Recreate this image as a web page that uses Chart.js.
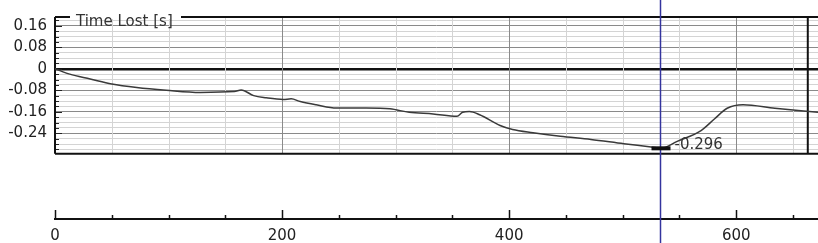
<!DOCTYPE html>
<html>
<head>
<meta charset="utf-8">
<script src="https://cdn.jsdelivr.net/npm/chart.js@4/dist/chart.umd.min.js"></script>
<style>
  body { margin: 0; background: #fff; }
  canvas { display: block; }
</style>
</head>
<body>
<canvas id="chart" width="818" height="243"></canvas>
<script>
// distance [m] and time lost [s]
const distance = [0, 13, 31, 50, 72, 98, 128, 158, 164, 175, 186, 201, 208, 216, 230, 248, 274, 295, 312, 333, 354, 359, 365, 374, 392, 403, 421, 445, 472, 501, 525, 534, 548, 569, 581, 592, 606, 634, 672];
const timeLost = [0, -0.020, -0.038, -0.057, -0.070, -0.080, -0.088, -0.085, -0.079, -0.100, -0.108, -0.114, -0.112, -0.122, -0.134, -0.146, -0.146, -0.149, -0.162, -0.168, -0.177, -0.162, -0.159, -0.171, -0.211, -0.226, -0.238, -0.251, -0.263, -0.279, -0.291, -0.296, -0.270, -0.230, -0.186, -0.147, -0.134, -0.147, -0.162];

const yTickValues = [0.16, 0.08, 0, -0.08, -0.16, -0.24];
const yTickLabels = ['0.16', '0.08', '0', '-0.08', '-0.16', '-0.24'];
const xTickValues = [0, 50, 100, 150, 200, 250, 300, 350, 400, 450, 500, 550, 600, 650];
const xTickLabels = ['0', '', '', '', '200', '', '', '', '400', '', '', '', '600', ''];

const title = 'Time Lost [s]';
const cursorX = 533;
const cursorValue = -0.296;
const cursorLabel = '-0.296';
const lapMarkX = 663;

const plotMax = 0.1926;
const plotMin = -0.316;
const yMin = -0.559;
const xMax = 672;

// minor y lines every 0.02
const yMinor = [];
for (let i = 18; i >= -30; i -= 2) yMinor.push(i / 100);

const FONT = '15px "DejaVu Sans"';

function isMajor(v) {
    return yTickValues.some(t => Math.abs(t - v) < 1e-6);
}

const decor = {
    id: 'decor',
    beforeDatasetsDraw(chart) {
        const c = chart.ctx;
        const xs = chart.scales.x, ys = chart.scales.y;
        const top = ys.getPixelForValue(plotMax);
        const bot = ys.getPixelForValue(plotMin);
        const left = xs.getPixelForValue(0);
        const right = chart.chartArea.right;
        c.save();
        // vertical grid
        xTickValues.forEach(v => {
            if (v === 0) return;
            const x = Math.round(xs.getPixelForValue(v)) + 0.5;
            c.strokeStyle = v % 200 === 0 ? '#8a8a8a' : '#d4d4d4';
            c.lineWidth = 1;
            c.beginPath(); c.moveTo(x, top); c.lineTo(x, bot); c.stroke();
        });
        // inner ticks on the left edge
        c.strokeStyle = '#222';
        c.lineWidth = 1;
        yMinor.forEach(v => {
            const y = Math.round(ys.getPixelForValue(v)) + 0.5;
            c.beginPath(); c.moveTo(left, y); c.lineTo(left + (isMajor(v) ? 7 : 4), y); c.stroke();
        });
        // frame
        c.strokeStyle = '#111';
        c.lineWidth = 2;
        c.beginPath(); c.moveTo(left, top); c.lineTo(right, top); c.stroke();
        c.beginPath(); c.moveTo(left, bot); c.lineTo(right, bot); c.stroke();
        c.beginPath(); c.moveTo(left, top); c.lineTo(left, bot); c.stroke();
        const lx = xs.getPixelForValue(lapMarkX);
        c.beginPath(); c.moveTo(lx, top); c.lineTo(lx, bot); c.stroke();
        // x axis ticks pointing up
        const ay = chart.chartArea.bottom;
        c.lineWidth = 1.5;
        xTickValues.forEach(v => {
            const x = Math.round(xs.getPixelForValue(v)) + 0.5;
            const len = v % 200 === 0 ? 9 : 4;
            c.beginPath(); c.moveTo(x, ay); c.lineTo(x, ay - len); c.stroke();
        });
        c.restore();
    },
    afterDatasetsDraw(chart) {
        const c = chart.ctx;
        const xs = chart.scales.x, ys = chart.scales.y;
        const top = ys.getPixelForValue(plotMax);
        c.save();
        // title over the top border
        c.fillStyle = '#fff';
        c.fillRect(70, 4, 111, top + 2 - 4);
        c.font = FONT;
        c.fillStyle = '#333';
        c.textBaseline = 'alphabetic';
        c.fillText(title, 76, top + 8.5);
        // cursor
        const cx = Math.round(xs.getPixelForValue(cursorX)) + 0.5;
        c.strokeStyle = '#34349e';
        c.lineWidth = 1.5;
        c.beginPath(); c.moveTo(cx, 0); c.lineTo(cx, chart.height); c.stroke();
        const cy = ys.getPixelForValue(cursorValue);
        c.fillStyle = '#111';
        c.fillRect(cx - 9, cy - 2, 19, 4);
        c.fillStyle = '#333';
        c.textBaseline = 'middle';
        c.fillText(cursorLabel, cx + 14, cy - 3);
        c.restore();
    }
};

new Chart(document.getElementById('chart'), {
    type: 'line',
    data: {
        labels: distance,
        datasets: [{
            data: distance.map((d, i) => ({ x: d, y: timeLost[i] })),
            borderColor: '#3a3a3a',
            borderWidth: 1.5,
            pointRadius: 0,
            cubicInterpolationMode: 'monotone',
            fill: false
        }]
    },
    options: {
        responsive: false,
        animation: false,
        layout: { padding: { top: 16, left: 0, right: 0, bottom: 0 } },
        plugins: { legend: { display: false }, tooltip: { enabled: false } },
        scales: {
            x: {
                type: 'linear',
                min: 0,
                max: xMax,
                afterBuildTicks: s => { s.ticks = xTickValues.map(v => ({ value: v })); },
                afterFit: s => { s.height = 24; },
                ticks: {
                    autoSkip: false,
                    maxRotation: 0,
                    padding: 8,
                    color: '#222',
                    font: { family: 'DejaVu Sans', size: 15 },
                    callback: (v) => xTickLabels[xTickValues.indexOf(v)] || ''
                },
                grid: { drawOnChartArea: false, drawTicks: false },
                border: { display: true, color: '#111', width: 2 }
            },
            y: {
                min: yMin,
                max: plotMax,
                afterBuildTicks: s => { s.ticks = yMinor.map(v => ({ value: v })); },
                afterFit: s => { s.width = 55; },
                ticks: {
                    autoSkip: false,
                    padding: 8,
                    color: '#222',
                    font: { family: 'DejaVu Sans', size: 15 },
                    callback: (v) => {
                        const i = yTickValues.findIndex(t => Math.abs(t - v) < 1e-6);
                        return i >= 0 ? yTickLabels[i] : '';
                    }
                },
                grid: {
                    drawTicks: false,
                    color: ctx => {
                        const v = ctx.tick.value;
                        if (Math.abs(v) < 1e-6) return '#111';
                        return isMajor(v) ? '#8a8a8a' : '#d4d4d4';
                    },
                    lineWidth: ctx => Math.abs(ctx.tick.value) < 1e-6 ? 2.5 : 1
                },
                border: { display: false }
            }
        }
    },
    plugins: [decor]
});
</script>
</body>
</html>
